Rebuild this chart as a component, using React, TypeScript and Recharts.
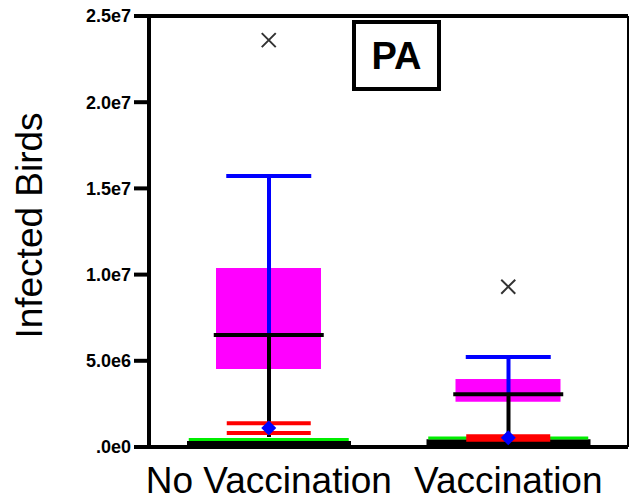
import React from 'react';
import { ComposedChart, Bar, Scatter, XAxis, YAxis, ReferenceLine } from 'recharts';

// per-group statistics
const groups = ['No Vaccination', 'Vaccination'];
const baseTop = [0.35e6, 0.45e6];
const greenLine = [0.44e6, 0.52e6];
const redHigh = [1.38e6, 0.62e6];
const redLow = [0.81e6, 0.42e6];
const q1 = [4.53e6, 2.62e6];
const q3 = [10.39e6, 3.94e6];
const median = [6.49e6, 3.06e6];
const whiskerMax = [15.72e6, 5.22e6];
const whiskerMin = [0.58e6, 0.54e6];
const mean = [1.1e6, 0.54e6];
const outlier = [23.6e6, 9.3e6];

const yTicks = [0, 5e6, 1e7, 1.5e7, 2e7, 2.5e7];
const yTickLabels = ['.0e0', '5.0e6', '1.0e7', '1.5e7', '2.0e7', '2.5e7'];

const data = groups.map((name, i) => ({
  name,
  base: [0, baseTop[i]],
  box: [q1[i], q3[i]],
  upper: [median[i], whiskerMax[i]],
  lower: [whiskerMin[i], median[i]],
  green: greenLine[i],
  redHigh: redHigh[i],
  redLow: redLow[i],
  median: median[i],
  cap: whiskerMax[i],
  mean: mean[i],
  outlier: outlier[i],
}));

const FONT = 'Arial, "Liberation Sans", sans-serif';

const hLine = (width: number, color: string, thickness: number) => (props: any) => {
  const { cx, cy } = props;
  return (
    <line x1={cx - width / 2} x2={cx + width / 2} y1={cy} y2={cy} stroke={color} strokeWidth={thickness} />
  );
};

const Diamond = (props: any) => {
  const { cx, cy } = props;
  const r = 7.5;
  return <polygon points={`${cx},${cy - r} ${cx + r},${cy} ${cx},${cy + r} ${cx - r},${cy}`} fill="#0000ff" />;
};

const Cross = (props: any) => {
  const { cx, cy } = props;
  const r = 7;
  return (
    <path d={`M${cx - r},${cy - r}L${cx + r},${cy + r}M${cx - r},${cy + r}L${cx + r},${cy - r}`} stroke="#333" strokeWidth={2} fill="none" />
  );
};

const XTick = (props: any) => {
  const { x, y, payload } = props;
  return (
    <text x={x} y={y + 46} textAnchor="middle" fontSize={37} fontFamily={FONT} fill="#000">
      {payload.value}
    </text>
  );
};

const YLabel = (props: any) => {
  const { viewBox } = props;
  const x = viewBox.x + 29;
  const y = viewBox.y + viewBox.height / 2 - 6;
  return (
    <text x={x} y={y} transform={`rotate(-90, ${x}, ${y})`} textAnchor="middle" dominantBaseline="central"
      fontSize={37} fontFamily={FONT} fill="#000">
      Infected Birds
    </text>
  );
};

export default function App() {
  return (
    <div style={{ position: 'absolute', left: 0, top: 0, width: 629, height: 500, background: '#fff' }}>
      <ComposedChart width={629} height={500} data={data} margin={{ top: 16, right: 0, bottom: 0, left: 0 }}>
        <XAxis xAxisId="main" dataKey="name" height={53} tickLine={false} tickSize={0} tickMargin={0}
          axisLine={{ stroke: '#000', strokeWidth: 4 }} tick={XTick} interval={0} />
        <XAxis xAxisId="base" dataKey="name" hide height={0} />
        <XAxis xAxisId="box" dataKey="name" hide height={0} />
        <XAxis xAxisId="upper" dataKey="name" hide height={0} />
        <XAxis xAxisId="lower" dataKey="name" hide height={0} />
        <YAxis width={149} domain={[0, 2.5e7]} ticks={yTicks} type="number" allowDataOverflow
          tickFormatter={(v: number) => yTickLabels[yTicks.indexOf(v)]}
          axisLine={{ stroke: '#000', strokeWidth: 4 }} tickLine={{ stroke: '#000', strokeWidth: 4 }}
          tickSize={15} tickMargin={3}
          tick={{ fontSize: 18, fontWeight: 'bold', fill: '#000', fontFamily: FONT }}
          label={{ content: YLabel }} />
        <YAxis yAxisId="right" orientation="right" width={1} domain={[0, 2.5e7]} tick={false} tickLine={false}
          axisLine={{ stroke: '#000', strokeWidth: 2 }} />
        <ReferenceLine xAxisId="main" y={2.5e7} stroke="#000" strokeWidth={4} />

        <Bar xAxisId="base" dataKey="base" barSize={164} fill="#000" isAnimationActive={false} />
        <Bar xAxisId="box" dataKey="box" barSize={105} fill="#ff00ff" isAnimationActive={false} />
        <Bar xAxisId="upper" dataKey="upper" barSize={4} fill="#0000ff" isAnimationActive={false} />
        <Bar xAxisId="lower" dataKey="lower" barSize={4} fill="#000" isAnimationActive={false} />

        <Scatter xAxisId="main" dataKey="green" shape={hLine(160, '#00ee00', 3)} isAnimationActive={false} />
        <Scatter xAxisId="main" dataKey="redLow" shape={hLine(84, '#ff0000', 4)} isAnimationActive={false} />
        <Scatter xAxisId="main" dataKey="redHigh" shape={hLine(84, '#ff0000', 4)} isAnimationActive={false} />
        <Scatter xAxisId="main" dataKey="median" shape={hLine(110, '#000', 4)} isAnimationActive={false} />
        <Scatter xAxisId="main" dataKey="cap" shape={hLine(85, '#0000ff', 4)} isAnimationActive={false} />
        <Scatter xAxisId="main" dataKey="mean" shape={Diamond} isAnimationActive={false} />
        <Scatter xAxisId="main" dataKey="outlier" shape={Cross} isAnimationActive={false} />
      </ComposedChart>
      <div style={{
        position: 'absolute', left: 352, top: 20, width: 81, height: 63, border: '4px solid #000',
        background: '#fff', display: 'flex', alignItems: 'center', justifyContent: 'center',
        fontFamily: FONT, fontWeight: 'bold', fontSize: 38, color: '#000', lineHeight: 1,
      }}>
        PA
      </div>
    </div>
  );
}
